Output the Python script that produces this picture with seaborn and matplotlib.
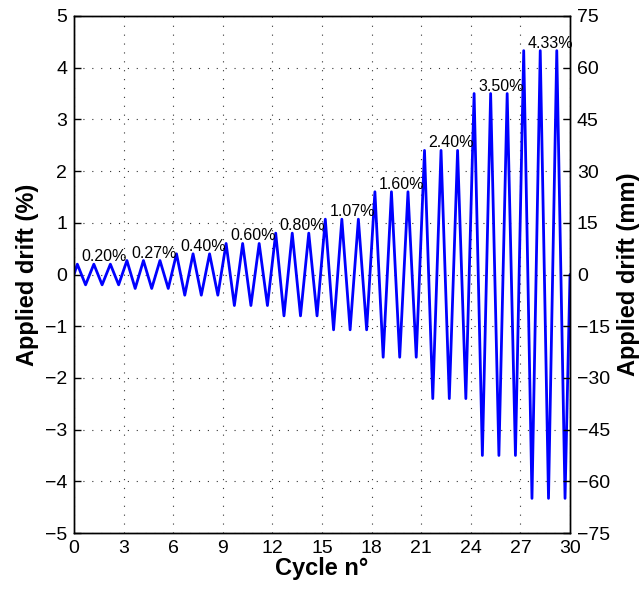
import numpy as np
import pandas as pd
import matplotlib
matplotlib.use("Agg")
import matplotlib.pyplot as plt
import seaborn as sns

# ---- data ----
drift_levels = [0.20, 0.27, 0.40, 0.60, 0.80, 1.07, 1.60, 2.40, 3.50, 4.33]  # %
level_labels = ["0.20%", "0.27%", "0.40%", "0.60%", "0.80%",
                "1.07%", "1.60%", "2.40%", "3.50%", "4.33%"]
cycles_per_level = 3
peak_phase = 0.2      # position of the positive peak within a cycle
trough_phase = 0.7    # position of the negative peak within a cycle
mm_per_percent = 15.0
x_ticks = [0, 3, 6, 9, 12, 15, 18, 21, 24, 27, 30]
y_ticks = [-5, -4, -3, -2, -1, 0, 1, 2, 3, 4, 5]
y2_ticks = [-75, -60, -45, -30, -15, 0, 15, 30, 45, 60, 75]

# build the drift history (triangular cycles)
cyc, drift = [0.0], [0.0]
k = 0
for amp in drift_levels:
    for _ in range(cycles_per_level):
        cyc += [k + peak_phase, k + trough_phase]
        drift += [amp, -amp]
        k += 1
cyc.append(float(k))
drift.append(0.0)
df = pd.DataFrame({"cycle": cyc, "drift": drift})

# ---- plot ----
sns.set_style("white")
plt.rcParams["font.family"] = ["Liberation Sans", "DejaVu Sans"]
plt.rcParams["axes.unicode_minus"] = True
plt.rcParams["text.color"] = "black"
plt.rcParams["axes.labelcolor"] = "black"

fig = plt.figure(figsize=(6.4, 5.94), dpi=100)
ax = fig.add_axes([74 / 640, 1 - 533 / 594, 496 / 640, 517 / 594])

sns.lineplot(data=df, x="cycle", y="drift", ax=ax, color=(0, 0, 1),
             linewidth=2.0, estimator=None, sort=False)

ax.set_xlim(0, 30)
ax.set_ylim(-5, 5)
ax.set_xticks(x_ticks)
ax.set_yticks(y_ticks)
ax.grid(True, linestyle=(0, (1, 7)), color="#333333", linewidth=0.8)
ax.tick_params(direction="in", length=5, width=1, labelsize=14, colors="black",
               top=False, right=False)
ax.tick_params(axis="y", pad=5)
ax.tick_params(axis="x", pad=5)
for s in ax.spines.values():
    s.set_color("black")
    s.set_linewidth(1.0)
ax.set_xlabel("Cycle n°", fontsize=17, fontweight="bold", labelpad=0, color="black")
ax.set_ylabel("Applied drift (%)", fontsize=17, fontweight="bold", labelpad=4, color="black")

# level annotations
for i, (amp, lab) in enumerate(zip(drift_levels, level_labels)):
    ax.text(i * cycles_per_level + 0.45, amp, lab,
            ha="left", va="bottom", fontsize=11.5, color="black")

# secondary axis in mm
ax2 = ax.twinx()
ax2.set_ylim(-5 * mm_per_percent, 5 * mm_per_percent)
ax2.set_yticks(y2_ticks)
ax2.tick_params(direction="in", length=5, width=1, labelsize=14, colors="black", pad=5)
for s in ax2.spines.values():
    s.set_color("black")
    s.set_linewidth(1.0)
ax2.set_ylabel("Applied drift (mm)", fontsize=17, fontweight="bold", labelpad=5, color="black")

fig.savefig("out.png", dpi=100)
